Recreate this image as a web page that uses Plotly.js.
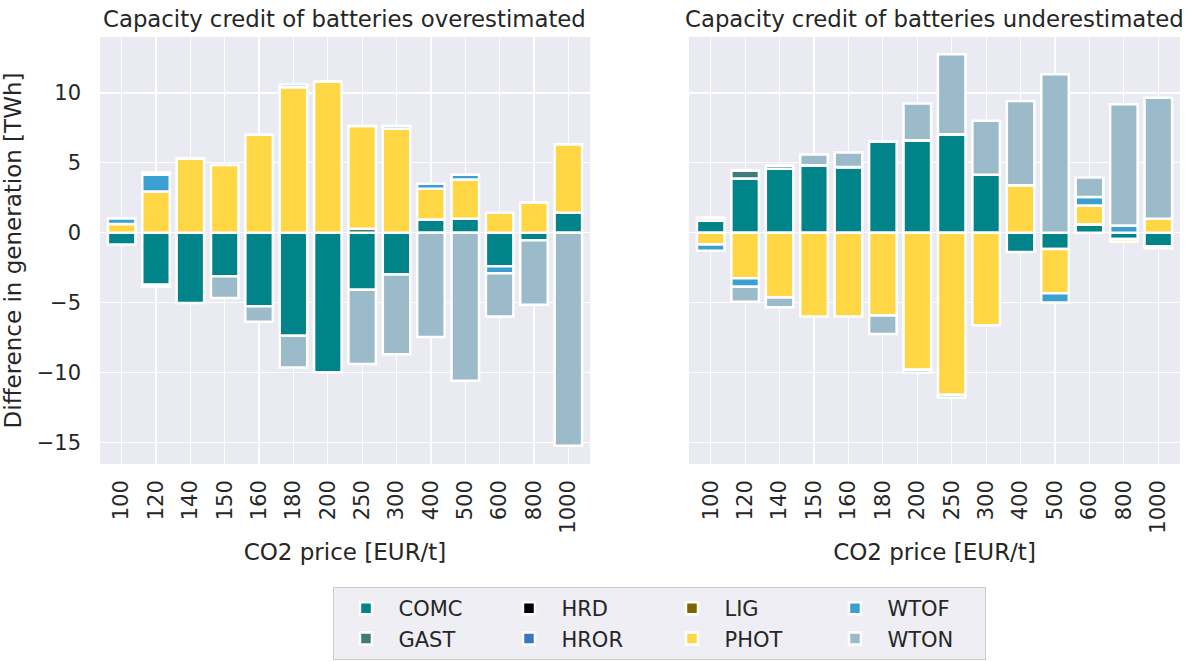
<!DOCTYPE html>
<html><head><meta charset="utf-8">
<script src="https://cdn.plot.ly/plotly-3.0.1.min.js"></script>
<style>html,body{margin:0;padding:0;background:#fff}</style>
</head><body>
<div id="chart" style="width:1188px;height:662px"></div>
<script>
const categories = ['100','120','140','150','160','180','200','250','300','400','500','600','800','1000'];
const technologies = ['COMC','GAST','HRD','HROR','LIG','PHOT','WTOF','WTON'];
const techColors = ['#008489','#427b79','#000000','#3878c3','#7f6402','#ffd744','#3a9fd1','#9bbbcb'];
const legendGroups = ['g1','g1','g2','g2','g3','g3','g4','g4'];

// Left panel: capacity credit of batteries overestimated [TWh]
const overCOMC = [-0.85,-3.72,-5.03,-3.12,-5.27,-7.37,-9.98,-4.08,-3.0,0.95,1.0,-2.4,-0.55,1.42];
const overGAST = [0,-0.15,0,0,0,0,0,0.28,0,0,0,0,0,0];
const overHRD  = [0,0,0,0,0,0,0,0,0,0,0,0,0,0];
const overHROR = [0,0,0,0,0,0,0,0,0,0,0,0,0,0];
const overLIG  = [0,0,0,0,0,0,0,0,0,0,0,0,0,0];
const overPHOT = [0.62,2.95,5.3,4.85,7.0,10.4,10.8,7.35,7.45,2.2,2.8,1.43,2.15,4.9];
const overWTOF = [0.42,1.2,0,0,0,0.2,0,0,0.2,0.35,0.35,-0.5,0,0];
const overWTON = [0,0.15,0,-1.56,-1.1,-2.28,0,-5.32,-5.69,-7.47,-10.6,-3.1,-4.6,-15.25];

// Right panel: capacity credit of batteries underestimated [TWh]
const underCOMC = [0.85,3.87,4.58,4.82,4.7,6.54,6.61,7.04,4.15,-1.38,-1.17,0.6,-0.45,-0.97];
const underGAST = [0.2,0.6,0.2,0,0,0,0,0,0,0,0,0,0,0];
const underHRD  = [0,0,0,0,0,0,0,0,0,0,0,0,0,0];
const underHROR = [0,0,0,0,0,0,0,0,0,0,0,0,0,0];
const underLIG  = [0,0,0,0,0,0,0,0,0,0,0,0,0,0];
const underPHOT = [-0.85,-3.26,-4.63,-5.99,-6.0,-5.92,-9.8,-11.6,-6.63,3.39,-3.17,1.35,-0.2,1.0];
const underWTOF = [-0.45,-0.6,0,0,0,0,-0.2,-0.2,0,0,-0.65,0.6,0.52,-0.15];
const underWTON = [0,-1.08,-0.7,0.77,1.03,-1.33,2.63,5.73,3.85,6.04,11.34,1.4,8.67,8.65];

const overSeries = [overCOMC,overGAST,overHRD,overHROR,overLIG,overPHOT,overWTOF,overWTON];
const underSeries = [underCOMC,underGAST,underHRD,underHROR,underLIG,underPHOT,underWTOF,underWTON];

const FONT = 'DejaVu Sans, sans-serif';
const TXT = '#262626';
const traces = [];
technologies.forEach((t,i)=>{
  traces.push({type:'bar', name:t, x:categories, y:overSeries[i], xaxis:'x', yaxis:'y',
    marker:{color:techColors[i], line:{color:'#ffffff', width:2.5}},
    legendgroup:legendGroups[i], showlegend:true, hoverinfo:'x+y+name'});
});
technologies.forEach((t,i)=>{
  traces.push({type:'bar', name:t, x:categories, y:underSeries[i], xaxis:'x2', yaxis:'y2',
    marker:{color:techColors[i], line:{color:'#ffffff', width:2.5}},
    legendgroup:legendGroups[i], showlegend:false, hoverinfo:'x+y+name'});
});

const xCommon = {type:'category', categoryorder:'array', categoryarray:categories,
  range:[-0.63,13.63], showgrid:true, gridcolor:'#ffffff', gridwidth:1.2, zeroline:false,
  showline:false, ticks:'', tickangle:-90, ticklabelstandoff:11,
  tickfont:{family:FONT,size:21,color:TXT},
  title:{text:'CO2 price [EUR/t]', font:{family:FONT,size:23,color:TXT}, standoff:11}};
const yCommon = {range:[-16.55,14.0], dtick:5, tick0:0, showgrid:true, gridcolor:'#ffffff', gridwidth:1.2,
  zeroline:false, showline:false, ticks:'', tickfont:{family:FONT,size:21,color:TXT}};

const layout = {
  width:1188, height:662,
  margin:{l:100, r:8, t:37, b:198},
  paper_bgcolor:'#ffffff', plot_bgcolor:'#eaeaf2',
  barmode:'relative', bargap:0.2,
  font:{family:FONT, color:TXT},
  xaxis:Object.assign({}, xCommon, {domain:[0,0.4537], anchor:'y'}),
  xaxis2:Object.assign({}, xCommon, {domain:[0.5454,1], anchor:'y2'}),
  yaxis:Object.assign({}, yCommon, {anchor:'x', ticklabelstandoff:18,
    title:{text:'Difference in generation [TWh]', font:{family:FONT,size:23,color:TXT}, standoff:9}}),
  yaxis2:Object.assign({}, yCommon, {anchor:'x2', matches:'y', showticklabels:false}),
  annotations:[
    {text:'Capacity credit of batteries overestimated', xref:'paper', yref:'paper',
     x:0.4537/2, y:1, xanchor:'center', yanchor:'bottom', yshift:3, showarrow:false,
     font:{family:FONT,size:22.8,color:TXT}},
    {text:'Capacity credit of batteries underestimated', xref:'paper', yref:'paper',
     x:(0.5454+1)/2, y:1, xanchor:'center', yanchor:'bottom', yshift:3, showarrow:false,
     font:{family:FONT,size:22.8,color:TXT}}
  ],
  legend:{orientation:'h', traceorder:'grouped', x:0.5185, xanchor:'center',
    yref:'container', y:0.003, yanchor:'bottom',
    bgcolor:'#eeeef4', bordercolor:'#cccccc', borderwidth:1, itemwidth:55, entrywidth:93,
    tracegroupgap:0, font:{family:FONT,size:21,color:TXT}},
  showlegend:true
};

Plotly.newPlot('chart', traces, layout, {displayModeBar:false, staticPlot:true});
</script>
</body></html>
